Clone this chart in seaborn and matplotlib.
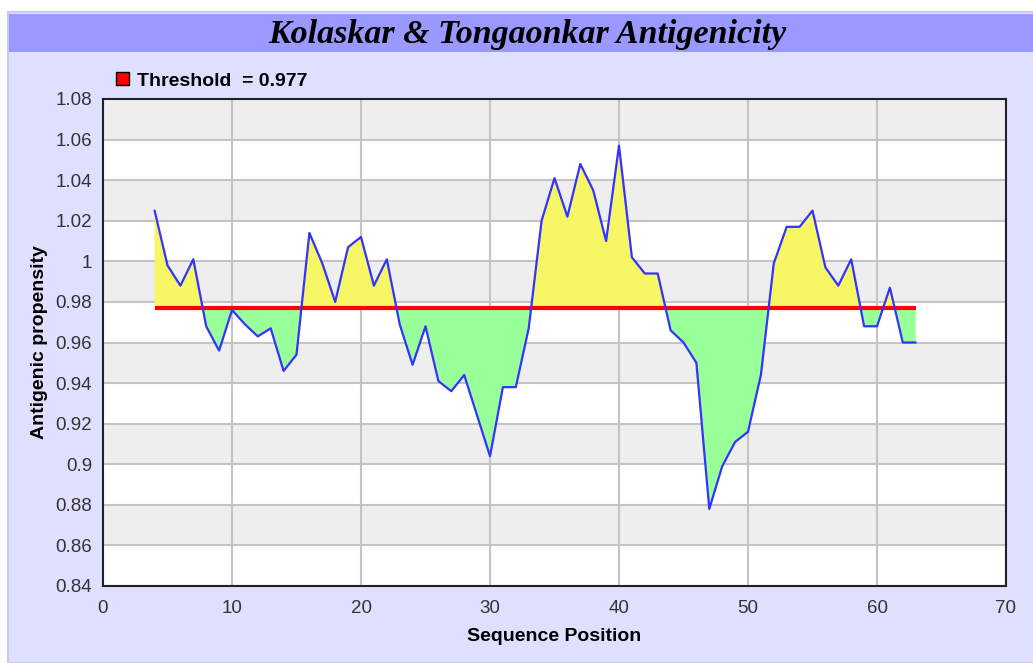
import numpy as np
import pandas as pd
import matplotlib
matplotlib.use("Agg")
import matplotlib.pyplot as plt
from matplotlib.patches import Rectangle, Patch
import seaborn as sns

# Kolaskar & Tongaonkar scores
positions = list(range(4, 64))
scores = [1.025, 0.998, 0.988, 1.001, 0.968, 0.956, 0.976, 0.969, 0.963, 0.967,
          0.946, 0.954, 1.014, 0.999, 0.980, 1.007, 1.012, 0.988, 1.001, 0.969,
          0.949, 0.968, 0.941, 0.936, 0.944, 0.924, 0.904, 0.938, 0.938, 0.967,
          1.020, 1.041, 1.022, 1.048, 1.035, 1.010, 1.057, 1.002, 0.994, 0.994,
          0.966, 0.960, 0.950, 0.878, 0.899, 0.911, 0.916, 0.944, 0.999, 1.017,
          1.017, 1.025, 0.997, 0.988, 1.001, 0.968, 0.968, 0.987, 0.960, 0.960]
threshold = 0.977
x_ticks = [0, 10, 20, 30, 40, 50, 60, 70]
y_ticks = [0.84, 0.86, 0.88, 0.90, 0.92, 0.94, 0.96, 0.98, 1.00, 1.02, 1.04, 1.06, 1.08]
y_tick_labels = ["0.84", "0.86", "0.88", "0.9", "0.92", "0.94", "0.96", "0.98",
                 "1", "1.02", "1.04", "1.06", "1.08"]

df = pd.DataFrame({"pos": positions, "score": scores})

sns.set_style("white")
plt.rcParams["font.family"] = ["Liberation Sans", "DejaVu Sans"]
plt.rcParams["text.color"] = "black"

fig = plt.figure(figsize=(10.33, 6.63), dpi=100)
fig.patch.set_facecolor("white")

# outer lavender panel and title bar
fig.patches.append(Rectangle((8 / 1033, 0), 1, 651 / 663, transform=fig.transFigure,
                             facecolor="#DFDFFF", edgecolor="#C8C8F4", lw=1.5, zorder=-5))
fig.patches.append(Rectangle((9 / 1033, 611 / 663), 1, 38 / 663, transform=fig.transFigure,
                             facecolor="#9999FF", edgecolor="none", zorder=-4))
fig.text(0.511, 629 / 663, "Kolaskar & Tongaonkar Antigenicity", ha="center", va="center",
         fontsize=24.5, fontweight="bold", fontstyle="italic", family="Liberation Serif",
         color="black")

ax = fig.add_axes([103 / 1033, 77 / 663, 903 / 1033, 487 / 663])
ax.set_zorder(2)
ax.set_xlim(0, 70)
ax.set_ylim(0.84, 1.08)

# alternating bands
for i in range(len(y_ticks) - 1):
    if (len(y_ticks) - 2 - i) % 2 == 0:
        ax.axhspan(y_ticks[i], y_ticks[i + 1], color="#EEEEEE", zorder=0, lw=0)

ax.set_xticks(x_ticks)
ax.set_yticks(y_ticks)
ax.set_yticklabels(y_tick_labels)
ax.grid(True, color="#C4C4C4", lw=1.5, zorder=1)
ax.set_axisbelow(True)

x = df["pos"].to_numpy()
y = df["score"].to_numpy()
ax.fill_between(x, y, threshold, where=y >= threshold, interpolate=True,
                color="#F7F766", lw=0, zorder=2)
ax.fill_between(x, y, threshold, where=y <= threshold, interpolate=True,
                color="#99FF99", lw=0, zorder=2)
ax.plot([x[0], x[-1]], [threshold, threshold], color="#FF0000", lw=3, zorder=3,
        solid_capstyle="butt")
sns.lineplot(data=df, x="pos", y="score", ax=ax, color="#3333FF", lw=1.6, zorder=4)

for s in ax.spines.values():
    s.set_color("#222222")
    s.set_linewidth(1.5)
ax.tick_params(direction="out", length=5, width=1, labelsize=13.5, colors="#222222",
               labelcolor="#333333", pad=3)
ax.tick_params(axis="x", pad=5)
ax.set_xlabel("Sequence Position", fontsize=14, fontweight="bold", labelpad=8, color="black")
ax.set_ylabel("Antigenic propensity", fontsize=14, fontweight="bold", labelpad=5, color="black")

handle = Patch(facecolor="#FF0000", edgecolor="black", lw=1)
fig.legend([handle], ["Threshold  = 0.977"], loc="center left",
           bbox_to_anchor=(116 / 1033, 582 / 663), frameon=False,
           prop={"weight": "bold", "size": 14}, handlelength=0.65, handleheight=0.65,
           handletextpad=0.45, borderaxespad=0, borderpad=0, labelcolor="black")

fig.savefig("out.png", dpi=100, facecolor=fig.get_facecolor())
